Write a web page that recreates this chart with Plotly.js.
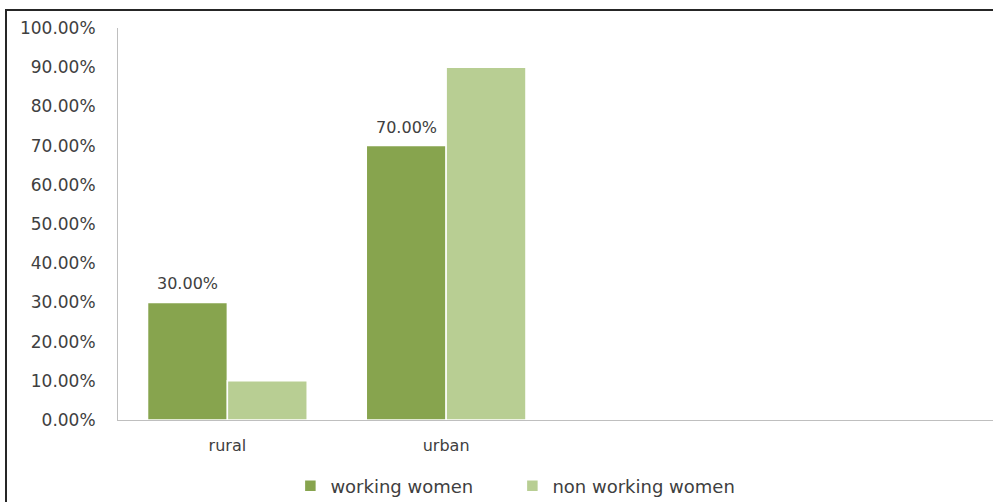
<!DOCTYPE html>
<html>
<head>
<meta charset="utf-8">
<script src="https://cdn.plot.ly/plotly-3.0.1.min.js"></script>
<style>
  html, body { margin: 0; padding: 0; background: #fff; overflow: hidden; }
  #wrap { position: relative; width: 993px; height: 502px; }
  #chart { position: absolute; left: 0; top: 0; width: 993px; height: 502px; }
  #frame { position: absolute; left: 5px; top: 9px; width: 1100px; height: 600px;
           border-top: 2px solid #262626; border-left: 2px solid #262626; pointer-events: none; }
</style>
</head>
<body>
<div id="wrap">
  <div id="chart"></div>
  <div id="frame"></div>
</div>
<script>
const categories = ['rural', 'urban', 'c3', 'c4'];
const tickLabels = ['rural', 'urban', '', ''];
const seriesNames = ['working women', 'non working women'];
const workingWomen = [0.30, 0.70];
const nonWorkingWomen = [0.10, 0.90];
const workingLabels = ['30.00%', '70.00%'];
const yTicks = [0, 0.1, 0.2, 0.3, 0.4, 0.5, 0.6, 0.7, 0.8, 0.9, 1.0];
const yTickLabels = ['0.00%', '10.00%', '20.00%', '30.00%', '40.00%', '50.00%', '60.00%', '70.00%', '80.00%', '90.00%', '100.00%'];

const fontFam = 'DejaVu Sans, sans-serif';
const txtColor = '#404040';
const fs = 17;
const bargap = 0.27;
const barOffset = -(1 - bargap) / 4; // centre of first bar in a group of two

const traces = [
  {
    type: 'bar', name: seriesNames[0],
    x: categories.slice(0, 2), y: workingWomen,
    marker: { color: '#87a44e', line: { color: '#ffffff', width: 1.5 } },
    hoverinfo: 'skip'
  },
  {
    type: 'bar', name: seriesNames[1],
    x: categories.slice(0, 2), y: nonWorkingWomen,
    marker: { color: '#b8ce93', line: { color: '#ffffff', width: 1.5 } },
    hoverinfo: 'skip'
  }
];

const annotations = workingWomen.map((v, i) => ({
  xref: 'x', yref: 'y', x: i + barOffset, y: v,
  text: workingLabels[i], showarrow: false,
  xanchor: 'center', yanchor: 'bottom', yshift: 7,
  font: { family: fontFam, size: fs - 1, color: txtColor }
}));

const layout = {
  width: 993, height: 502,
  margin: { l: 118, r: 0, t: 28, b: 82, autoexpand: false },
  paper_bgcolor: '#ffffff', plot_bgcolor: '#ffffff',
  font: { family: fontFam, size: fs, color: txtColor },
  barmode: 'group', bargap: bargap, bargroupgap: 0,
  showlegend: true,
  annotations: annotations,
  legend: {
    orientation: 'h', x: 0.197, xanchor: 'left',
    yref: 'container', y: 0.032, yanchor: 'middle',
    entrywidth: 177,
    font: { family: fontFam, size: fs + 1, color: txtColor }, traceorder: 'normal'
  },
  xaxis: {
    type: 'category', categoryorder: 'array', categoryarray: categories,
    range: [-0.5, 3.5], tickvals: categories, ticktext: tickLabels,
    showline: true, linecolor: '#bfbfbf', linewidth: 1, showgrid: false,
    ticks: 'outside', ticklen: 11, tickcolor: 'rgba(0,0,0,0)', zeroline: false,
    automargin: false,
    tickfont: { family: fontFam, size: fs - 1, color: txtColor }, fixedrange: true
  },
  yaxis: {
    range: [0, 1], tickvals: yTicks, ticktext: yTickLabels,
    showline: true, linecolor: '#bfbfbf', linewidth: 1, showgrid: false, zeroline: false,
    ticks: 'outside', ticklen: 18, tickcolor: 'rgba(0,0,0,0)', automargin: false,
    tickfont: { family: fontFam, size: fs, color: txtColor }, fixedrange: true
  }
};

Plotly.newPlot('chart', traces, layout, { staticPlot: true, displayModeBar: false });
</script>
</body>
</html>
